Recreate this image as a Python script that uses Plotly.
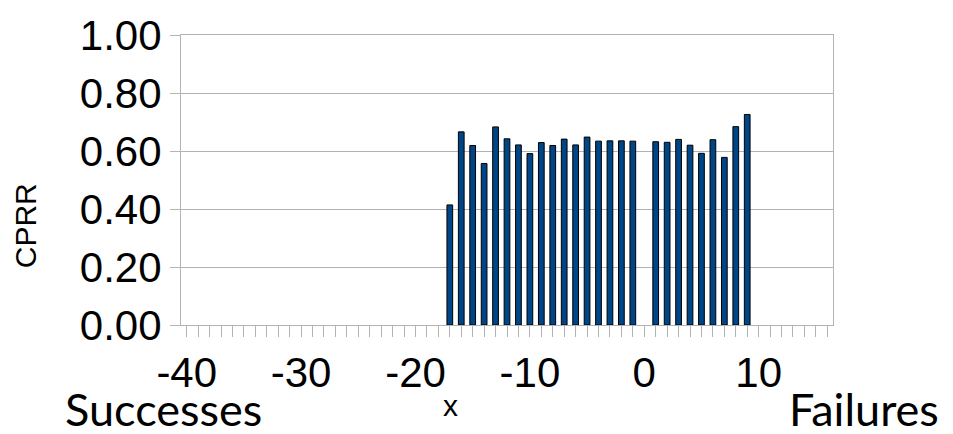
import plotly.graph_objects as go

# Outcome offset (successes negative, failures positive) and the CPRR measured at each
offsets = [-17, -16, -15, -14, -13, -12, -11, -10, -9, -8, -7, -6, -5, -4, -3, -2, -1,
           1, 2, 3, 4, 5, 6, 7, 8, 9]
cprr = [0.414, 0.666, 0.619, 0.557, 0.683, 0.642, 0.621, 0.591, 0.629, 0.619, 0.641,
        0.621, 0.648, 0.634, 0.635, 0.635, 0.634,
        0.632, 0.630, 0.640, 0.620, 0.592, 0.639, 0.578, 0.684, 0.726]

x_ticks = list(range(-40, 17))
x_tick_text = [str(v) if v % 10 == 0 and v <= 10 else "" for v in x_ticks]
y_ticks = [0.0, 0.2, 0.4, 0.6, 0.8, 1.0]

GRID = "#b3b3b3"
TICK_FONT = dict(family="Liberation Sans", size=42, color="black")
LABEL_FONT = dict(family="Lato", size=45, color="black")

fig = go.Figure(
    go.Bar(
        x=offsets,
        y=cprr,
        width=0.5,
        marker=dict(color="#004586", line=dict(color="black", width=1)),
    )
)

fig.update_layout(
    width=953,
    height=434,
    margin=dict(l=181, r=120, t=25, b=109),
    paper_bgcolor="white",
    plot_bgcolor="white",
    showlegend=False,
    xaxis=dict(
        range=[-40.5, 16.5],
        tickmode="array",
        tickvals=x_ticks,
        ticktext=x_tick_text,
        ticks="outside",
        ticklen=11,
        tickcolor=GRID,
        tickwidth=1,
        showgrid=False,
        zeroline=False,
        showline=True,
        linecolor=GRID,
        linewidth=1,
        mirror=True,
        tickfont=TICK_FONT,
    ),
    yaxis=dict(
        range=[0, 1],
        tickmode="array",
        tickvals=y_ticks,
        tickformat=".2f",
        ticks="outside",
        ticklen=10,
        tickcolor=GRID,
        showgrid=True,
        gridcolor=GRID,
        gridwidth=1,
        zeroline=False,
        showline=True,
        linecolor=GRID,
        linewidth=1,
        mirror=True,
        tickfont=TICK_FONT,
    ),
    annotations=[
        dict(text="CPRR", xref="paper", yref="paper", x=-0.238, y=(325 - 222) / 300,
             textangle=-90, showarrow=False, xanchor="center", yanchor="middle",
             font=dict(family="Liberation Sans", size=30, color="black")),
        dict(text="x", xref="paper", yref="paper", x=(450 - 181) / 652, y=(325 - 408) / 300,
             showarrow=False, xanchor="center", yanchor="middle",
             font=dict(family="Liberation Sans", size=30, color="black")),
        dict(text="Successes", xref="paper", yref="paper", x=(163 - 181) / 652,
             y=(325 - 412) / 300, showarrow=False, xanchor="center", yanchor="middle",
             font=LABEL_FONT),
        dict(text="Failures", xref="paper", yref="paper", x=(864 - 181) / 652,
             y=(325 - 412) / 300, showarrow=False, xanchor="center", yanchor="middle",
             font=LABEL_FONT),
    ],
)

fig.write_html("out.html")
